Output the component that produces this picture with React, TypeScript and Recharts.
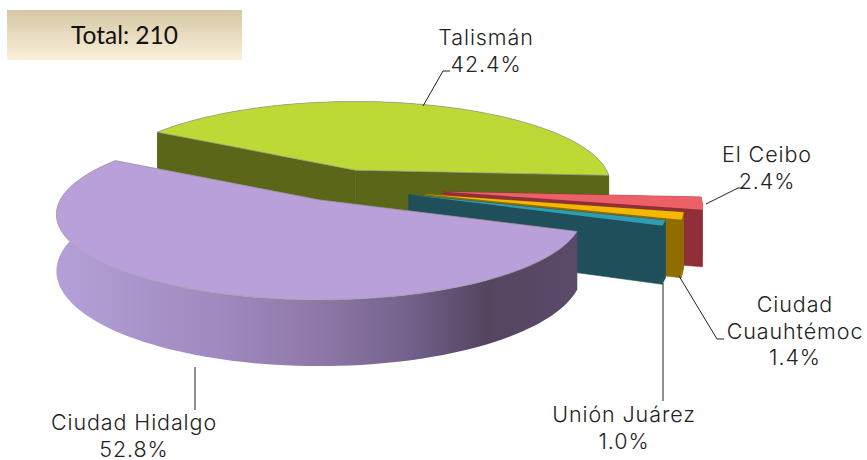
import { PieChart, Pie } from "recharts";

const NAMES = ["Talismán", "El Ceibo", "Ciudad Cuauhtémoc", "Unión Juárez", "Ciudad Hidalgo"];
const VALUES = [42.4, 2.4, 1.4, 1.0, 52.8];
const LABEL_LINES = [["Talismán"], ["El Ceibo"], ["Ciudad", "Cuauhtémoc"], ["Unión Juárez"], ["Ciudad Hidalgo"]];
const TOTAL = 210;

const TOP_COLORS = ["#bdd935", "#ee6068", "#f5b800", "#2f9db2", "#b9a0da"];
const WALL_COLORS = ["#5c6618", "#8f2f3a", "#8f6e00", "#1f4f5a", "url(#hidalgoWall)"];
const EXPLODE = [55, 106, 89, 74, 45];
const RADIUS_SCALE = [0.985, 1, 1, 1, 1.016];

// label centre x, first line centre y, leader polyline
const LABEL_X = [486, 767, 795, 624, 134];
const LABEL_Y = [38, 155, 305, 415, 423];
const LEADERS = [
  "423,106 443,71 450,71",
  "706,204 738,188 745,188",
  "679,276 717,339 724,339",
  "663,283 663,401",
  "195,367 195,410",
];

const data = NAMES.map((name, i) => ({ name, value: VALUES[i] }));

const SQUASH = 0.32;
const PERSP = 0.17;
const DEPTH = 55;
const FONT = "Inter, sans-serif";

function SliceShape(props: any) {
  const { cx, cy, outerRadius, startAngle, endAngle, name } = props;
  const i = NAMES.indexOf(name);
  const rad = Math.PI / 180;
  const r = outerRadius * RADIUS_SCALE[i];
  const mid = ((startAngle + endAngle) / 2) * rad;
  const ax = cx + EXPLODE[i] * Math.cos(mid);
  const ay = cy - EXPLODE[i] * SQUASH * Math.sin(mid);

  const point = (deg: number) => {
    const u = Math.cos(deg * rad);
    const v = -Math.sin(deg * rad);
    const w = 1 - PERSP * v;
    return { x: ax + (r * u) / w, y: ay + (r * SQUASH * v) / w, d: DEPTH / w };
  };

  const steps = Math.max(2, Math.ceil(Math.abs(endAngle - startAngle) / 2));
  const arc = Array.from({ length: steps + 1 }, (_, k) => point(startAngle + ((endAngle - startAngle) * k) / steps));
  const first = arc[0];
  const last = arc[arc.length - 1];
  const top = [`${ax},${ay}`, ...arc.map((p) => `${p.x},${p.y}`)].join(" ");
  const outer = [...arc.map((p) => `${p.x},${p.y}`), ...[...arc].reverse().map((p) => `${p.x},${p.y + p.d}`)].join(" ");
  const wallA = `${ax},${ay} ${first.x},${first.y} ${first.x},${first.y + first.d} ${ax},${ay + DEPTH}`;
  const wallB = `${ax},${ay} ${last.x},${last.y} ${last.x},${last.y + last.d} ${ax},${ay + DEPTH}`;
  const wall = WALL_COLORS[i];

  return (
    <g>
      <polygon points={wallA} fill={wall} stroke={wall} strokeWidth={0.6} />
      <polygon points={wallB} fill={wall} stroke={wall} strokeWidth={0.6} />
      <polygon points={outer} fill={wall} />
      <polygon points={top} fill={TOP_COLORS[i]} stroke={i === 0 || i === 4 ? "#9a9a9a" : "none"} strokeWidth={0.7} />
    </g>
  );
}

function SliceLabel(props: any) {
  const i = NAMES.indexOf(props.name);
  const lines = [...LABEL_LINES[i], VALUES[i].toFixed(1) + "%"];
  return (
    <g>
      <polyline points={LEADERS[i]} fill="none" stroke="#222" strokeWidth={1} />
      <text
        x={LABEL_X[i]}
        textAnchor="middle"
        fontFamily={FONT}
        fontSize={21.5}
        fontWeight={300}
        letterSpacing={0.9}
        fill="#222"
      >
        {lines.map((line, k) => (
          <tspan key={k} x={LABEL_X[i]} y={LABEL_Y[i] + k * 26.5 + 7}>
            {line}
          </tspan>
        ))}
      </text>
    </g>
  );
}

export default function App() {
  return (
    <div style={{ position: "absolute", left: 0, top: 0, width: 867, height: 460, background: "#fff", overflow: "hidden" }}>
      <PieChart width={867} height={460} margin={{ top: 0, right: 0, bottom: 0, left: 0 }}>
        <defs>
          <linearGradient id="hidalgoWall" gradientUnits="userSpaceOnUse" x1="57" y1="0" x2="580" y2="0">
            <stop offset="0%" stopColor="#b4a0d8" />
            <stop offset="30%" stopColor="#a08abf" />
            <stop offset="50%" stopColor="#8f78a8" />
            <stop offset="68%" stopColor="#72608a" />
            <stop offset="82%" stopColor="#54455f" />
            <stop offset="100%" stopColor="#5b4a6b" />
          </linearGradient>
        </defs>
        <Pie
          data={data}
          dataKey="value"
          nameKey="name"
          cx={339}
          cy={187}
          outerRadius={255}
          startAngle={149}
          endAngle={-211}
          shape={SliceShape}
          label={SliceLabel}
          labelLine={false}
          stroke="none"
          isAnimationActive={false}
        />
      </PieChart>
      <div
        style={{
          position: "absolute",
          left: 7,
          top: 10,
          width: 235,
          height: 50,
          background: "linear-gradient(#d6c8a5, #faefd9)",
          color: "#111",
          fontFamily: "Lato, sans-serif",
          fontSize: 24.5,
          lineHeight: "50px",
          textAlign: "center",
        }}
      >
        Total: {TOTAL}
      </div>
    </div>
  );
}
